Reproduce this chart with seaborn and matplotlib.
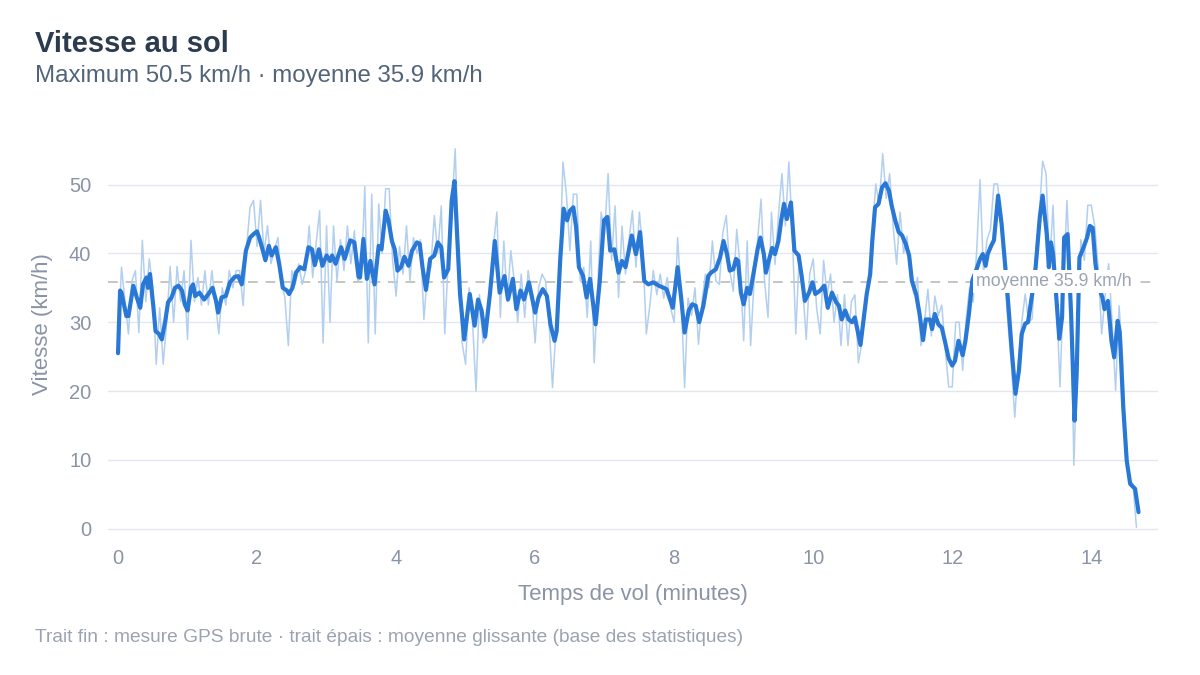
import numpy as np
import pandas as pd
import matplotlib.pyplot as plt
import seaborn as sns

# moyenne glissante (trait épais)
smooth_t = [0.00, 0.03, 0.05, 0.12, 0.15, 0.22, 0.27, 0.32, 0.36, 0.41, 0.43, 0.46,
            0.51, 0.54, 0.59, 0.63, 0.68, 0.72, 0.77, 0.82, 0.87, 0.92, 0.96, 1.00,
            1.05, 1.08, 1.11, 1.17, 1.24, 1.30, 1.36, 1.41, 1.44, 1.49, 1.55, 1.61,
            1.68, 1.73, 1.78, 1.84, 1.90, 1.95, 2.00, 2.03, 2.07, 2.12, 2.17, 2.21,
            2.27, 2.32, 2.37, 2.43, 2.46, 2.51, 2.56, 2.62, 2.68, 2.74, 2.79, 2.83,
            2.89, 2.94, 3.00, 3.05, 3.08, 3.13, 3.21, 3.26, 3.34, 3.40, 3.46, 3.48,
            3.53, 3.58, 3.63, 3.69, 3.75, 3.79, 3.85, 3.89, 3.94, 3.98, 4.02, 4.07,
            4.12, 4.18, 4.23, 4.30, 4.34, 4.38, 4.43, 4.49, 4.55, 4.60, 4.65, 4.69,
            4.75, 4.80, 4.84, 4.87, 4.92, 4.98, 5.06, 5.13, 5.18, 5.23, 5.28, 5.35,
            5.42, 5.49, 5.56, 5.61, 5.68, 5.73, 5.79, 5.84, 5.91, 6.00, 6.05, 6.11,
            6.17, 6.22, 6.28, 6.31, 6.36, 6.41, 6.46, 6.50, 6.55, 6.59, 6.63, 6.69,
            6.74, 6.79, 6.87, 6.93, 6.99, 7.04, 7.08, 7.14, 7.20, 7.25, 7.30, 7.39,
            7.45, 7.51, 7.57, 7.63, 7.70, 7.78, 7.85, 7.89, 7.94, 7.98, 8.05, 8.10,
            8.15, 8.21, 8.26, 8.31, 8.36, 8.42, 8.49, 8.53, 8.60, 8.66, 8.71, 8.76,
            8.80, 8.85, 8.89, 8.92, 8.96, 9.00, 9.05, 9.09, 9.14, 9.20, 9.24, 9.29,
            9.32, 9.36, 9.41, 9.45, 9.50, 9.54, 9.58, 9.62, 9.68, 9.73, 9.79, 9.83,
            9.88, 9.94, 9.99, 10.03, 10.10, 10.16, 10.21, 10.27, 10.33, 10.37, 10.41, 10.46,
            10.51, 10.56, 10.60, 10.64, 10.68, 10.72, 10.77, 10.82, 10.85, 10.89, 10.94, 10.99,
            11.04, 11.09, 11.13, 11.18, 11.23, 11.28, 11.33, 11.38, 11.42, 11.48, 11.53, 11.58,
            11.62, 11.68, 11.71, 11.75, 11.80, 11.85, 11.90, 11.95, 12.00, 12.04, 12.09, 12.15,
            12.19, 12.24, 12.29, 12.35, 12.40, 12.44, 12.48, 12.51, 12.56, 12.60, 12.66, 12.71,
            12.78, 12.86, 12.91, 12.96, 13.00, 13.05, 13.09, 13.15, 13.20, 13.26, 13.30, 13.36,
            13.39, 13.42, 13.45, 13.49, 13.54, 13.58, 13.61, 13.66, 13.71, 13.76, 13.79, 13.83,
            13.89, 13.94, 13.98, 14.02, 14.06, 14.11, 14.16, 14.19, 14.24, 14.29, 14.33, 14.38,
            14.41, 14.46, 14.51, 14.56, 14.61, 14.63, 14.68]
smooth_v = [25.5, 34.6, 34.3, 30.9, 30.9, 35.3, 33.6, 32.1, 35.5, 36.5, 35.0, 37.0,
            32.1, 28.7, 28.3, 27.5, 30.2, 32.9, 33.6, 35.0, 35.3, 34.6, 32.6, 31.7,
            35.0, 35.5, 33.8, 34.3, 33.3, 34.1, 35.0, 33.1, 31.4, 33.6, 33.8, 35.8,
            36.6, 36.7, 35.5, 40.4, 42.3, 42.8, 43.2, 42.3, 40.9, 39.0, 41.1, 39.7,
            40.9, 38.4, 35.0, 34.6, 34.1, 35.0, 37.2, 38.0, 37.7, 40.9, 40.6, 38.3,
            40.6, 38.2, 39.7, 38.9, 39.7, 38.5, 40.9, 39.2, 41.9, 41.6, 36.6, 36.5,
            42.1, 36.3, 38.9, 35.5, 41.1, 40.6, 46.2, 44.8, 41.8, 40.6, 37.5, 38.0,
            39.5, 38.2, 40.4, 41.6, 41.4, 38.0, 34.7, 39.2, 39.7, 41.6, 40.9, 36.5,
            37.7, 47.7, 50.5, 44.3, 34.1, 27.5, 34.1, 29.5, 33.3, 31.7, 27.9, 34.1,
            41.8, 34.3, 36.7, 33.3, 36.3, 31.9, 34.6, 33.3, 35.8, 31.4, 33.6, 34.8,
            33.8, 29.7, 27.3, 28.7, 38.9, 46.5, 44.8, 46.2, 46.7, 43.8, 38.0, 36.7,
            33.6, 36.3, 29.7, 36.0, 44.8, 45.3, 40.4, 40.6, 37.2, 38.9, 38.0, 42.6,
            39.9, 43.1, 36.0, 35.5, 35.8, 35.3, 35.0, 34.8, 33.3, 32.1, 38.0, 33.6,
            28.5, 31.7, 32.6, 32.4, 30.0, 32.4, 36.7, 37.2, 37.7, 39.4, 41.8, 39.9,
            37.5, 37.7, 39.2, 38.9, 34.3, 32.6, 35.0, 34.1, 37.0, 40.6, 42.3, 39.9,
            37.2, 38.9, 40.8, 39.9, 41.8, 44.8, 47.2, 45.0, 47.4, 40.4, 39.7, 37.0,
            33.1, 34.3, 35.8, 34.1, 34.6, 35.3, 32.1, 34.3, 32.9, 32.4, 30.4, 31.7,
            30.4, 30.0, 30.7, 28.7, 26.7, 30.0, 34.1, 37.0, 41.8, 46.7, 47.2, 49.6,
            50.2, 49.1, 46.9, 44.8, 43.1, 42.6, 41.4, 39.7, 36.0, 34.1, 31.2, 27.4,
            30.4, 30.4, 29.0, 31.2, 29.7, 29.2, 27.0, 24.7, 23.7, 24.4, 27.3, 25.2,
            27.3, 31.2, 36.1, 37.7, 39.2, 39.9, 38.2, 39.9, 41.1, 41.9, 48.4, 44.3,
            36.1, 25.4, 19.6, 23.0, 28.3, 29.8, 30.0, 34.1, 38.0, 45.3, 48.4, 42.8,
            38.0, 41.6, 39.9, 34.6, 27.6, 30.7, 42.3, 42.8, 31.2, 15.7, 22.5, 39.4,
            40.9, 42.3, 44.0, 43.7, 38.5, 35.1, 33.6, 31.9, 33.1, 27.3, 24.9, 30.2,
            28.5, 17.7, 9.9, 6.5, 6.0, 5.8, 2.4]

# mesure GPS brute (trait fin), un point toutes les 3 s
raw_step = 0.05
raw_v = [26.0, 38.0, 33.0, 28.3, 36.0, 37.5, 28.5, 41.9, 33.0, 39.2,
         35.0, 23.9, 32.1, 23.9, 30.0, 38.1, 30.0, 38.1, 33.0, 37.5,
         27.5, 41.9, 33.0, 36.5, 32.5, 37.5, 32.5, 37.5, 33.0, 28.3,
         35.0, 32.5, 37.5, 35.0, 37.5, 37.5, 32.4, 41.0, 46.7, 47.7,
         41.0, 47.7, 40.1, 44.0, 38.5, 40.5, 42.3, 36.0, 33.6, 26.6,
         37.5, 35.5, 38.5, 35.5, 37.5, 44.0, 36.5, 41.5, 46.2, 27.0,
         44.0, 30.0, 44.0, 36.0, 42.0, 37.5, 44.0, 38.5, 43.3, 36.0,
         36.5, 49.7, 27.0, 48.6, 28.3, 47.2, 40.0, 49.4, 49.4, 39.0,
         33.8, 41.0, 37.0, 44.0, 36.0, 42.3, 40.0, 42.0, 30.4, 37.0,
         38.0, 45.5, 40.0, 46.9, 28.3, 39.0, 46.0, 55.2, 40.0, 27.0,
         23.9, 35.0, 30.0, 20.0, 34.0, 27.0, 28.0, 34.0, 41.0, 46.0,
         30.7, 41.8, 33.0, 40.4, 36.0, 30.0, 37.0, 30.7, 37.5, 34.0,
         27.0, 35.0, 37.0, 36.0, 30.0, 20.5, 29.0, 36.0, 53.3, 48.6,
         40.4, 48.6, 48.6, 36.0, 38.0, 30.7, 41.8, 24.1, 35.0, 46.0,
         43.0, 51.6, 39.0, 46.9, 33.6, 44.0, 37.0, 42.0, 46.2, 38.0,
         46.0, 40.0, 28.3, 32.4, 37.5, 34.0, 37.0, 33.5, 36.5, 32.0,
         30.0, 42.3, 34.0, 20.5, 33.5, 31.0, 35.0, 26.8, 33.0, 37.0,
         35.0, 41.8, 36.0, 35.5, 43.0, 45.5, 37.5, 34.5, 43.5, 38.0,
         27.3, 41.8, 26.6, 36.0, 42.0, 47.9, 36.0, 30.7, 46.0, 38.4,
         45.5, 51.6, 44.0, 53.3, 43.0, 28.3, 40.0, 35.0, 27.5, 37.0,
         39.2, 32.0, 28.3, 39.0, 34.0, 37.0, 30.0, 34.0, 26.6, 34.0,
         26.6, 33.0, 34.0, 24.1, 27.0, 33.0, 36.0, 43.0, 50.1, 47.0,
         54.5, 48.0, 51.6, 44.0, 38.4, 46.0, 40.0, 42.5, 36.5, 34.0,
         36.5, 26.6, 30.0, 34.8, 28.0, 33.8, 31.0, 32.5, 26.0, 20.6,
         20.6, 30.0, 30.0, 23.0, 30.5, 35.0, 32.9, 40.0, 50.7, 37.0,
         42.0, 43.5, 50.1, 50.1, 46.0, 38.0, 30.0, 24.0, 16.2, 24.0,
         30.0, 34.1, 30.0, 30.5, 40.0, 45.0, 53.4, 51.6, 38.0, 47.0,
         34.0, 20.6, 35.0, 47.7, 36.0, 9.2, 26.0, 42.0, 39.0, 47.0,
         47.0, 44.0, 38.0, 28.3, 34.0, 38.5, 30.0, 20.1, 32.4, 25.0,
         10.0, 7.0, 6.5, 0.2]

mean_speed = 35.9
max_speed = 50.5

raw = pd.DataFrame({"t": np.arange(len(raw_v)) * raw_step, "v": raw_v})
smooth = pd.DataFrame({"t": smooth_t, "v": smooth_v})

sns.set_style("white")
plt.rcParams["font.family"] = ["Liberation Sans", "DejaVu Sans"]

blue = "#2a78d6"
muted = "#8a94a6"

fig = plt.figure(figsize=(12, 6.75), dpi=100)
ax = fig.add_axes([0.09, 0.2015, 0.875, 0.6015])

sns.lineplot(data=raw, x="t", y="v", color="#b3cff0", lw=1.1, estimator=None, ax=ax, zorder=2)
sns.lineplot(data=smooth, x="t", y="v", color=blue, lw=3, estimator=None, ax=ax, zorder=3)

ax.axhline(mean_speed, color="#c6c6bf", lw=1.4, ls=(0, (5, 4)), zorder=1.5)
ax.text(14.58, mean_speed, f"moyenne {mean_speed} km/h", ha="right", va="center",
        fontsize=12.8, color="#9aa3b2", zorder=6,
        bbox=dict(facecolor="white", edgecolor="none", pad=2))

ax.set_xlim(-0.144, 14.96)
ax.set_ylim(-1.5, 57.5)
ax.set_xticks(range(0, 15, 2))
ax.set_yticks(range(0, 51, 10))
ax.yaxis.grid(True, color="#e3e7ed", lw=1)
ax.xaxis.grid(False)
ax.set_axisbelow(True)
sns.despine(ax=ax, left=True, bottom=True)
ax.tick_params(length=0, labelsize=14.5, colors=muted)
ax.tick_params(axis="y", pad=12)
ax.tick_params(axis="x", pad=7)

ax.set_xlabel("Temps de vol (minutes)", fontsize=16, color=muted, labelpad=12)
ax.set_ylabel("Vitesse (km/h)", fontsize=16, color=muted)
ax.yaxis.set_label_coords(-0.052, 0.53)

fig.text(35 / 1200, 1 - 44 / 675, "Vitesse au sol", fontsize=21, fontweight="bold",
         color="#2c3b4e", va="center")
fig.text(35 / 1200, 1 - 76 / 675,
         f"Maximum {max_speed} km/h · moyenne {mean_speed} km/h",
         fontsize=17.3, color="#52647a", va="center")
fig.text(35 / 1200, 1 - 638 / 675,
         "Trait fin : mesure GPS brute · trait épais : moyenne glissante (base des statistiques)",
         fontsize=13.8, color="#9aa3b2", va="center")

fig.savefig("out.png", dpi=100)
